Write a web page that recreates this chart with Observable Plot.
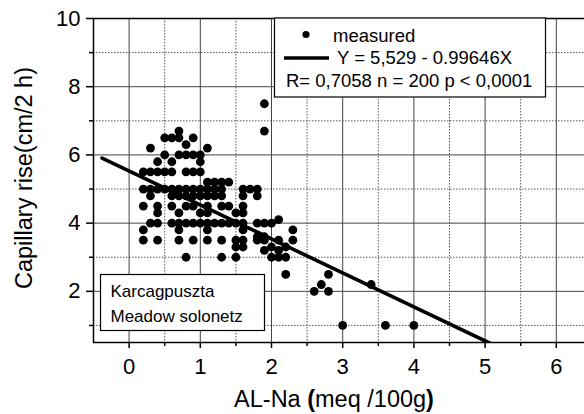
<!DOCTYPE html>
<html><head><meta charset="utf-8">
<script src="https://cdn.jsdelivr.net/npm/d3@7"></script>
<script src="https://cdn.jsdelivr.net/npm/@observablehq/plot@0.6"></script>
<style>
html,body{margin:0;padding:0;background:#fff;overflow:hidden;}
#wrap{position:relative;width:584px;height:414px;overflow:hidden;}
</style></head><body><div id="wrap"></div>
<script>
// Capillary rise values (rows) and the AL-Na values measured at each
const rises = [7.5, 6.7, 6.5, 6.3, 6.2, 6.0, 5.8, 5.5, 5.2, 5.0, 4.8, 4.5, 4.3, 4.1, 4.0, 3.8, 3.6, 3.5, 3.3, 3.2, 3.0, 2.5, 2.2, 2.0, 1.0];
const alNaByRise = [
  [1.9],
  [0.7, 1.9],
  [0.5, 0.6, 0.7, 0.9],
  [0.8],
  [0.3, 1.1],
  [0.5, 0.7, 0.8, 0.9, 1.0],
  [0.4, 0.6, 1.0],
  [0.2, 0.3, 0.4, 0.5, 0.6, 0.8, 0.9, 1.0],
  [1.1, 1.2, 1.3, 1.4],
  [0.2, 0.3, 0.4, 0.5, 0.6, 0.7, 0.8, 0.9, 1.0, 1.1, 1.2, 1.3, 1.6, 1.7, 1.8],
  [0.3, 0.6, 0.7, 0.8, 0.9, 1.0, 1.1, 1.2, 1.3, 1.6, 1.8],
  [0.2, 0.4, 0.6, 0.8, 0.9, 1.1, 1.3, 1.4, 1.6],
  [0.4, 0.7, 1.0, 1.1, 1.5, 1.6],
  [2.1],
  [0.3, 0.4, 0.6, 0.7, 0.8, 0.9, 1.0, 1.1, 1.2, 1.3, 1.4, 1.5, 1.6, 1.8, 1.9, 2.0],
  [0.2, 0.7, 1.1, 1.6, 2.3],
  [1.8, 1.9],
  [0.2, 0.4, 0.7, 0.9, 1.1, 1.3, 1.5, 1.6, 1.8, 1.9, 2.1, 2.3],
  [1.5, 1.6, 2.0, 2.2],
  [1.9, 2.1],
  [0.8, 1.3, 1.5, 2.0, 2.1, 2.2],
  [2.2, 2.8],
  [2.7, 3.4],
  [2.6, 2.8],
  [3.0, 3.6, 4.0]
];
const fitIntercept = 5.529;
const fitSlope = -0.99646;
const fitXRange = [-0.38, 5.06];

const xMajorTicks = [0, 1, 2, 3, 4, 5, 6];
const xMinorTicks = [0.5, 1.5, 2.5, 3.5, 4.5, 5.5, 6.5];
const yMajorTicks = [2, 4, 6, 8, 10];
const yMinorTicks = [1, 3, 5, 7, 9];

const xTitle = "AL-Na (meq /100g)";
const yTitle = "Capillary rise(cm/2 h)";
const legendLabels = ["measured", "Y = 5,529 - 0.99646X", "R= 0,7058 n = 200 p < 0,0001"];
const siteLabels = ["Karcagpuszta", "Meadow solonetz"];

const points = rises.flatMap((y, i) => alNaByRise[i].map(x => ({x, y})));
const fitLine = fitXRange.map(x => ({x, y: fitIntercept + fitSlope * x}));

const font = '"Liberation Sans", Arial, Helvetica, sans-serif';
const minorGrid = {stroke: "#555", strokeWidth: 1, strokeDasharray: "1.5,1.5"};
const majorGrid = {stroke: "#444", strokeWidth: 1};

const chart = Plot.plot({
  width: 584, height: 414,
  marginTop: 18, marginBottom: 72, marginLeft: 93, marginRight: -7.4,
  style: {fontFamily: font, background: "white", color: "black"},
  x: {domain: [-0.5, 6.5]},
  y: {domain: [0.5, 10]},
  marks: [
    Plot.ruleX(xMinorTicks, minorGrid),
    Plot.ruleY(yMinorTicks, minorGrid),
    Plot.ruleX(xMajorTicks, majorGrid),
    Plot.ruleY(yMajorTicks, majorGrid),
    Plot.dot(points, {x: "x", y: "y", r: 4.4, fill: "black", stroke: null}),
    Plot.line(fitLine, {x: "x", y: "y", stroke: "black", strokeWidth: 3.6, clip: true}),
    Plot.frame({stroke: "black", strokeWidth: 1.5}),
    Plot.axisX(xMajorTicks, {tickSize: 6, tickPadding: 10, fontSize: 22, label: null, strokeWidth: 1.5}),
    Plot.axisX(xMinorTicks, {tickSize: 4, tickFormat: () => "", label: null, strokeWidth: 1.5}),
    Plot.axisY(yMajorTicks, {tickSize: 7, tickPadding: 6, fontSize: 22, label: null, strokeWidth: 1.5}),
    Plot.axisY(yMinorTicks, {tickSize: 4, tickFormat: () => "", label: null, strokeWidth: 1.5}),
    Plot.text([xTitle], {frameAnchor: "bottom", dx: -8.7, dy: 64, lineAnchor: "bottom", fontSize: 23.5})
  ]
});

const svg = d3.select(chart);

// bold parentheses in x title
svg.selectAll("text").filter(function(){ return this.textContent === xTitle; })
  .html(xTitle.replace(/[()]/g, m => `<tspan font-weight="bold">${m}</tspan>`));

// y title
svg.append("text")
  .attr("transform", "translate(32,178) rotate(-90)")
  .attr("text-anchor", "middle").attr("font-family", font).attr("font-size", 23.5)
  .attr("fill", "black").text(yTitle);

// legend box
const lg = svg.append("g").attr("font-family", font).attr("fill", "black").attr("text-anchor", "start");
lg.append("rect").attr("x", 274.5).attr("y", 18).attr("width", 271).attr("height", 79)
  .attr("fill", "white").attr("stroke", "black").attr("stroke-width", 1.2);
lg.append("circle").attr("cx", 306).attr("cy", 34.5).attr("r", 3.6).attr("fill", "black");
lg.append("text").attr("x", 333).attr("y", 41.5).attr("font-size", 18.5).text(legendLabels[0]);
lg.append("line").attr("x1", 284).attr("x2", 329).attr("y1", 58).attr("y2", 58)
  .attr("stroke", "black").attr("stroke-width", 3.6);
lg.append("text").attr("x", 337).attr("y", 63.5).attr("font-size", 18.5).text(legendLabels[1]);
lg.append("text").attr("x", 286).attr("y", 87).attr("font-size", 18.5).text(legendLabels[2]);

// site box
const sg = svg.append("g").attr("font-family", font).attr("fill", "black").attr("text-anchor", "start");
sg.append("rect").attr("x", 100.5).attr("y", 274.5).attr("width", 164).attr("height", 56)
  .attr("fill", "white").attr("stroke", "black").attr("stroke-width", 1.2);
sg.selectAll("text.site").data(siteLabels).join("text").attr("class", "site")
  .attr("x", 110.5).attr("y", (d, i) => 297 + i * 25).attr("font-size", 17).text(d => d);

document.getElementById("wrap").appendChild(chart);
</script></body></html>
